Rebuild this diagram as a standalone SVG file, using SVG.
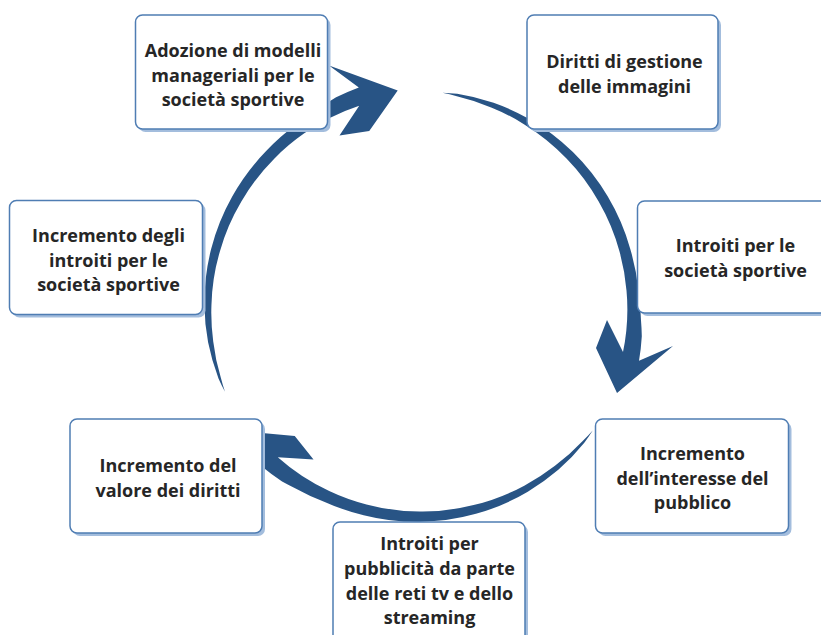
<svg xmlns="http://www.w3.org/2000/svg" width="821" height="635" viewBox="0 0 821 635">
<style>
.sh{fill:#a3bddd;}
.bx{fill:#ffffff;stroke:#4f7db3;stroke-width:1.5;}
.t{font-family:"Open Sans","Noto Sans","Liberation Sans",sans-serif;font-weight:700;font-size:18px;fill:#262626;text-anchor:middle;}
.ar{fill:#285485;}
</style>
<defs>
<path id="arr" class="ar" d="M442.3,92.7 A214 214 0 0 1 457.2,93.8 A215 215 0 0 1 493.6,102.8 A215.4 215.4 0 0 1 527.8,118.3 A216 216 0 0 1 572.9,152.1 A216.5 216.5 0 0 1 607.8,196.6 A217 217 0 0 1 630.2,248.7 A218 218 0 0 1 638.3,289.7 A220 220 0 0 1 641.0,320.5 A223 223 0 0 1 641.8,336.2 A225 225 0 0 1 639.0,360.8 L673,346 L617,393 L596,348 L607,320 L623,352 A208 208 0 0 0 626.5,290.6 A207 207 0 0 0 619.5,251.6 A206.5 206.5 0 0 0 598.8,201.8 A207 207 0 0 0 566.5,158.5 A208 208 0 0 0 524.3,124.4 A209 209 0 0 0 491.8,107.7 A211 211 0 0 0 456.8,96.2 A213 213 0 0 0 442.3,92.7 Z"/>
</defs>
<g id="connectors">
<use href="#arr"/>
<use href="#arr" transform="rotate(120 420 305)"/>
<use href="#arr" transform="rotate(240 420 305)"/>
</g>
<g id="n1">
<rect class="sh" x="138.5" y="18" width="192" height="114" rx="7"/>
<rect class="bx" x="135.5" y="15" width="192" height="114" rx="7"/>
<text class="t" x="233" y="57">Adozione di modelli</text>
<text class="t" x="233" y="81.7">manageriali per le</text>
<text class="t" x="233" y="106.3">società sportive</text>
</g>
<g id="n2">
<rect class="sh" x="530" y="18" width="191" height="114" rx="7"/>
<rect class="bx" x="527" y="15" width="191" height="114" rx="7"/>
<text class="t" x="624.5" y="68">Diritti di gestione</text>
<text class="t" x="624.5" y="93">delle immagini</text>
</g>
<g id="n3">
<rect class="sh" x="640.5" y="204" width="192" height="112" rx="7"/>
<rect class="bx" x="637.5" y="201" width="192" height="112" rx="7"/>
<text class="t" x="735.5" y="251.5">Introiti per le</text>
<text class="t" x="735.5" y="276.5">società sportive</text>
</g>
<g id="n4">
<rect class="sh" x="598.5" y="422" width="193" height="114" rx="7"/>
<rect class="bx" x="595.5" y="419" width="193" height="114" rx="7"/>
<text class="t" x="692.5" y="460">Incremento</text>
<text class="t" x="692.5" y="484.5">dell’interesse del</text>
<text class="t" x="692.5" y="509">pubblico</text>
</g>
<g id="n5">
<rect class="sh" x="336" y="525" width="192" height="124" rx="7"/>
<rect class="bx" x="333" y="522" width="192" height="124" rx="7"/>
<text class="t" x="429.5" y="550">Introiti per</text>
<text class="t" x="429.5" y="575">pubblicità da parte</text>
<text class="t" x="429.5" y="599.5">delle reti tv e dello</text>
<text class="t" x="429.5" y="624">streaming</text>
</g>
<g id="n6">
<rect class="sh" x="73" y="422" width="192" height="114" rx="7"/>
<rect class="bx" x="70" y="419" width="192" height="114" rx="7"/>
<text class="t" x="168" y="472">Incremento del</text>
<text class="t" x="168" y="497">valore dei diritti</text>
</g>
<g id="n7">
<rect class="sh" x="12.5" y="203.5" width="193" height="114" rx="7"/>
<rect class="bx" x="9.5" y="200.5" width="193" height="114" rx="7"/>
<text class="t" x="108.5" y="241.7">Incremento degli</text>
<text class="t" x="108.5" y="266.5">introiti per le</text>
<text class="t" x="108.5" y="290.5">società sportive</text>
</g>
</svg>
